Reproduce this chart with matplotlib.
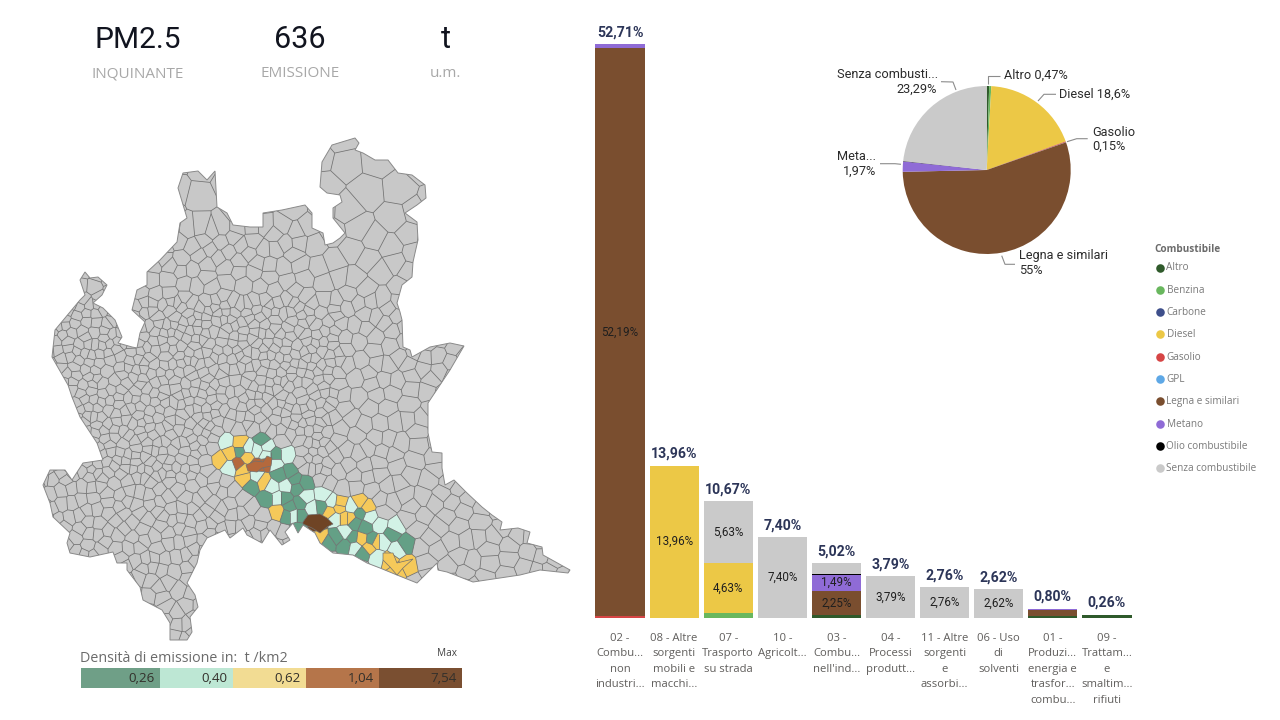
import numpy as np
import matplotlib
matplotlib.use("Agg")
import matplotlib.pyplot as plt
import matplotlib.tri as mtri
from matplotlib.collections import LineCollection
from matplotlib.patches import PathPatch, Polygon, Rectangle
from matplotlib.path import Path

# bar chart data
categories = [
    "02 -\nCombu...\nnon\nindustri...", "08 - Altre\nsorgenti\nmobili e\nmacchi...",
    "07 -\nTrasporto\nsu strada", "10 -\nAgricolt...", "03 -\nCombu...\nnell'ind...",
    "04 -\nProcessi\nprodutt...", "11 - Altre\nsorgenti\ne\nassorbi...", "06 - Uso\ndi\nsolventi",
    "01 -\nProduzi...\nenergia e\ntrasfor...\ncombu...", "09 -\nTrattam...\ne\nsmaltim...\nrifiuti",
]
totals = [52.71, 13.96, 10.67, 7.40, 5.02, 3.79, 2.76, 2.62, 0.80, 0.26]
fuels = ["Altro", "Benzina", "Carbone", "Diesel", "Gasolio", "GPL", "Legna e similari",
         "Metano", "Olio combustibile", "Senza combustibile"]
fuel_colors = ["#2F5A2B", "#69B75E", "#3E4F8B", "#ECC846", "#D64545", "#5EA8E6", "#7A4E2F",
               "#8F6BD6", "#000000", "#CACACA"]
altro = [0, 0, 0, 0, 0.20, 0, 0, 0, 0.12, 0.20]
benzina = [0, 0, 0.41, 0, 0, 0, 0, 0, 0, 0]
diesel = [0, 13.96, 4.63, 0, 0, 0, 0, 0, 0, 0]
gasolio = [0.13, 0, 0, 0, 0, 0, 0, 0, 0, 0]
legna = [52.19, 0, 0, 0, 2.25, 0, 0, 0, 0.60, 0]
metano = [0.39, 0, 0, 0, 1.49, 0, 0, 0, 0.08, 0]
olio = [0, 0, 0, 0, 0.08, 0, 0, 0, 0, 0]
senza = [0, 0, 5.63, 7.40, 1.00, 3.79, 2.76, 2.62, 0, 0.06]
zero = [0] * 10
stack = [altro, benzina, zero, diesel, gasolio, zero, legna, metano, olio, senza]

# pie data
pie_values = [0.47, 0.41, 18.6, 0.15, 0.03, 55, 1.97, 0.08, 23.29]
pie_colors = ["#2F5A2B", "#69B75E", "#ECC846", "#D64545", "#5EA8E6", "#7A4E2F", "#8F6BD6", "#000000", "#CACACA"]

# map legend
class_labels = ["0,26", "0,40", "0,62", "1,04", "7,54"]
class_legend_colors = ["#6F9F87", "#BDE7D4", "#F2DC93", "#B5754A", "#7A4F31"]
class_map_colors = ["#64A086", "#D2F2E6", "#F5C95A", "#B4693D", "#6F4425"]

# outline of the region (pixels)
outline_x = [80, 85, 90, 98, 107, 102, 93, 103, 115, 122, 118, 132, 137, 140, 145, 132, 137, 147, 147, 160, 177, 180,
             187, 178, 183, 198, 207, 215, 217, 227, 233, 250, 263, 263, 282, 305, 312, 312, 323, 325, 333, 340, 345,
             333, 333, 342, 340, 327, 320, 322, 332, 355, 359, 355, 363, 375, 388, 398, 412, 425, 426, 417, 405, 417,
             418, 415, 413, 412, 402, 397, 400, 402, 403, 410, 412, 430, 450, 464, 450, 428, 428, 432, 442, 442, 445,
             454, 467, 482, 492, 502, 500, 518, 530, 527, 542, 543, 570, 568, 540, 520, 473, 447, 438, 437, 417, 397,
             380, 367, 353, 333, 320, 315, 303, 298, 293, 285, 290, 282, 270, 262, 247, 243, 230, 225, 207, 200, 197,
             187, 195, 198, 190, 192, 187, 170, 170, 162, 143, 140, 127, 127, 117, 113, 90, 70, 67, 70, 53, 50, 43,
             50, 65, 72, 83, 103, 97, 80, 72, 68, 52, 55, 80, 85]
outline_y = [280, 272, 278, 277, 285, 295, 303, 308, 320, 337, 343, 347, 348, 333, 322, 310, 290, 285, 272, 260, 242,
             223, 218, 188, 173, 171, 180, 171, 207, 213, 225, 227, 227, 213, 210, 205, 213, 228, 233, 245, 243, 238,
             233, 218, 208, 202, 195, 193, 187, 162, 145, 138, 143, 150, 153, 160, 160, 173, 175, 185, 198, 205, 213,
             222, 240, 253, 262, 277, 285, 303, 312, 320, 347, 350, 357, 347, 343, 346, 370, 403, 433, 452, 453, 468,
             485, 480, 493, 507, 515, 522, 530, 528, 532, 543, 547, 555, 570, 573, 570, 575, 582, 572, 570, 563, 583,
             575, 568, 563, 555, 553, 543, 533, 525, 533, 523, 532, 540, 545, 530, 543, 535, 528, 538, 530, 538, 550,
             563, 583, 595, 607, 617, 632, 640, 640, 623, 610, 600, 587, 570, 563, 563, 552, 557, 553, 543, 533, 517,
             503, 485, 470, 470, 480, 463, 460, 443, 417, 397, 385, 357, 330, 300, 295]

# municipalities with a density class, position, class index into class_labels
comuni_x = [226, 220, 230, 240, 230, 240, 238, 247, 243, 245, 257, 267, 263, 248, 257, 267, 266, 262, 275,
            275, 287, 280, 290, 295, 305, 252, 256, 272, 286, 267, 285, 297, 290, 300, 300, 306, 323, 277, 278, 287,
            293, 298, 312, 321, 332, 340, 330, 339, 344, 350, 335, 317, 320, 328, 337, 345, 353, 345, 355, 352, 360,
            367, 360, 355, 365, 363, 372, 380, 370, 395, 361, 369, 376, 377, 382, 397, 392, 406, 390, 397, 407]
comuni_y = [442, 459, 453, 443, 467, 451, 464, 457, 470, 478, 465, 462, 482, 448, 450, 447, 455, 440, 455,
            463, 455, 475, 472, 480, 483, 485, 477, 487, 486, 498, 498, 488, 507, 503, 515, 497, 495, 498, 512, 515,
            515, 530, 508, 507, 502, 503, 512, 508, 518, 518, 518, 523, 538, 543, 537, 545, 538, 532, 547, 507, 502,
            507, 513, 523, 527, 553, 540, 525, 517, 527, 539, 548, 542, 557, 542, 550, 533, 544, 560, 570, 565]
comuni_classe = [1, 2, 2, 2, 1, 0, 3, 2, 2, 2, 3, 3, 2, 1, 1, 1, 1, 0, 0,
                 1, 1, 0, 0, 0, 0, 0, 1, 1, 1, 0, 0, 0, 0, 0, 0, 1, 1, 1, 2, 0,
                 1, 0, 1, 0, 1, 2, 2, 2, 2, 2, 1, 4, 2, 0, 0, 0, 0, 1, 1, 1, 2,
                 2, 0, 0, 0, 0, 0, 1, 1, 1, 2, 2, 2, 1, 1, 1, 0, 0, 2, 2, 2]

# the three large municipalities have their own shape
grandi_x = [[303, 308, 320, 327, 333, 327, 320, 312, 303],
            [246, 255, 263, 267, 272, 271, 262, 257, 248],
            [383, 393, 397, 413, 403, 397, 390, 383]]
grandi_y = [[522, 515, 514, 518, 524, 527, 533, 528, 524],
            [465, 461, 462, 456, 458, 466, 468, 472, 471],
            [553, 553, 563, 559, 568, 575, 567, 560]]
grandi_classe = [4, 3, 2]

kpi_values = ["PM2.5", "636", "t"]
kpi_names = ["INQUINANTE", "EMISSIONE", "u.m."]

plt.rcParams["font.family"] = ["Open Sans", "DejaVu Sans"]
din = ["Roboto", "DejaVu Sans"]

fig = plt.figure(figsize=(12.8, 7.2), dpi=100, facecolor="white")
ax_px = fig.add_axes([0, 0, 1, 1])
ax_px.set_xlim(0, 1280)
ax_px.set_ylim(720, 0)
ax_px.axis("off")


def halton(n, base):
    out = np.zeros(n)
    for i in range(n):
        f, r, k = 1.0, 0.0, i + 1
        while k > 0:
            f /= base
            r += f * (k % base)
            k //= base
        out[i] = r
    return out


def cell_size(x, y):
    # municipalities are large in the Alps and in the south east, small in the plain
    if y < 225:
        return 22
    if y < 300 and x > 300:
        return 15
    if y < 300:
        return 10.5
    if x > 340 and y < 400:
        return 10.5
    if x > 400:
        return 12
    if x > 330 and y > 400:
        return 11
    if y > 570:
        return 10
    if x < 180 and y > 480:
        return 8.5
    if y > 480 and x < 300:
        return 8
    return 6.3


# texture of the municipal borders: voronoi cells around the picked seeds plus filler seeds
px = list(comuni_x)
py = list(comuni_y)
for hx, hy in zip(20 + 570 * halton(20000, 2), 120 + 530 * halton(20000, 3)):
    d = np.hypot(np.array(px) - hx, np.array(py) - hy)
    if d[:len(comuni_x)].min() < 14:
        continue
    if d.min() >= cell_size(hx, hy):
        px.append(hx)
        py.append(hy)
px = np.array(px)
py = np.array(py)

tri = mtri.Triangulation(px, py)
a = tri.triangles
ax1, ay1 = px[a[:, 0]], py[a[:, 0]]
bx, by = px[a[:, 1]] - ax1, py[a[:, 1]] - ay1
cx, cy = px[a[:, 2]] - ax1, py[a[:, 2]] - ay1
dd = 2 * (bx * cy - by * cx)
ccx = ax1 + (cy * (bx**2 + by**2) - by * (cx**2 + cy**2)) / dd
ccy = ay1 + (bx * (cx**2 + cy**2) - cx * (bx**2 + by**2)) / dd

segs = []
for t, nb in enumerate(tri.neighbors):
    for n in nb:
        if n > t:
            segs.append([(ccx[t], ccy[t]), (ccx[n], ccy[n])])

outline = Path(np.column_stack([outline_x + outline_x[:1], outline_y + outline_y[:1]]), closed=True)
land = PathPatch(outline, facecolor="#C8C8C8", edgecolor="none", zorder=1)
ax_px.add_patch(land)

for i, k in enumerate(comuni_classe):
    ts = np.where((a == i).any(axis=1))[0]
    ang = np.arctan2(ccy[ts] - py[i], ccx[ts] - px[i])
    order = ts[np.argsort(ang)]
    cell = Polygon(np.column_stack([ccx[order], ccy[order]]), closed=True,
                   facecolor=class_map_colors[k], edgecolor="none", zorder=2)
    ax_px.add_patch(cell)
    cell.set_clip_path(land)

borders = LineCollection(segs, colors="#707070", linewidths=0.55, zorder=3)
ax_px.add_collection(borders)
borders.set_clip_path(land)
ax_px.add_patch(PathPatch(outline, facecolor="none", edgecolor="#8A8A8A", linewidth=0.7, zorder=4))

for gx, gy, k in zip(grandi_x, grandi_y, grandi_classe):
    ax_px.add_patch(Polygon(np.column_stack([gx, gy]), closed=True, facecolor=class_map_colors[k],
                            edgecolor="#707070", linewidth=0.5, zorder=5))

# KPI cards
for cx_kpi, val, name, size in zip([138, 300, 445.5], kpi_values, kpi_names, [21.5, 22, 22]):
    ax_px.text(cx_kpi, 39.5, val, ha="center", va="center", fontsize=size, color="#11141F", family=din)
    ax_px.text(cx_kpi, 73.5, name, ha="center", va="center", fontsize=11, color="#A8A8A8")

# map legend
ax_px.text(80, 658, "Densità di emissione in:  t /km2", ha="left", va="center", fontsize=10.3, color="#6B6B6B")
ax_px.text(457, 654, "Max", ha="right", va="center", fontsize=7.2, color="#444444")
legend_edges = [81, 160, 232.5, 305.5, 378.5, 462]
for i, (lab, col) in enumerate(zip(class_labels, class_legend_colors)):
    ax_px.add_patch(Rectangle((legend_edges[i], 668), legend_edges[i + 1] - legend_edges[i], 20,
                              facecolor=col, edgecolor="none"))
    ax_px.text(legend_edges[i + 1] - 5, 678.5, lab, ha="right", va="center", fontsize=9.6, color="#33302B")

# stacked bars
W, H = 1280, 720
ax_bar = fig.add_axes([593 / W, (H - 617.5) / H, 541 / W, 573.5 / H])
ax_bar.set_facecolor("none")
positions = np.arange(len(categories))
bottom = np.zeros(len(categories))
for vals, col in zip(stack, fuel_colors):
    vals = np.array(vals, dtype=float)
    ax_bar.bar(positions, vals, 0.91, bottom=bottom, color=col, linewidth=0)
    for i, v in enumerate(vals):
        if v >= 1.2:
            ax_bar.text(i, bottom[i] + v / 2, f"{v:.2f}%".replace(".", ","), ha="center", va="center",
                        fontsize=8.4, color="#1F1F1F", family=din)
    bottom += vals
for i, t in enumerate(totals):
    ax_bar.text(i, t + 0.44, f"{t:.2f}%".replace(".", ","), ha="center", va="bottom",
                fontsize=10.2, fontweight="bold", color="#2C3558", family=din, clip_on=False)
ax_bar.set_xlim(-0.5, len(categories) - 0.5)
ax_bar.set_ylim(0, 52.71)
ax_bar.set_yticks([])
ax_bar.set_xticks(positions)
ax_bar.set_xticklabels(categories, fontsize=8.1, color="#605E5C", linespacing=1.56)
ax_bar.tick_params(axis="x", length=0, pad=11)
for s in ax_bar.spines.values():
    s.set_visible(False)

# pie
ax_pie = fig.add_axes([(986.7 - 84) / W, (H - 170 - 84) / H, 168 / W, 168 / H])
ax_pie.pie(pie_values, colors=pie_colors, startangle=90, counterclock=False, radius=1)
ax_pie.set_xlim(-1, 1)
ax_pie.set_ylim(-1, 1)

pie_labels = [
    ("Senza combusti...", 938, 74, "right"), ("23,29%", 937, 89, "right"),
    ("Altro 0,47%", 1004, 75.5, "left"), ("Diesel 18,6%", 1059, 94, "left"),
    ("Gasolio", 1092, 132, "left"), ("0,15%", 1092, 146, "left"),
    ("Meta...", 876, 157, "right"), ("1,97%", 876, 171, "right"),
    ("Legna e similari", 1019, 256, "left"), ("55%", 1019, 271, "left"),
]
for txt, tx, ty, ha in pie_labels:
    ax_px.text(tx, ty, txt, ha=ha, va="center", fontsize=9.2, color="#2B2B2B", family=din)
leaders = [
    [(941, 81.7), (953, 82), (956, 90)], [(1000, 75.7), (987.7, 75.7), (987.7, 84.3)],
    [(1056, 94.3), (1044, 94.3), (1038, 101)], [(1087.7, 138.7), (1076.7, 138.7), (1067, 141.7)],
    [(880, 163.7), (895, 163.7), (901, 164.3)], [(1015, 264.3), (1005, 264.3), (1001.7, 255.7)],
]
ax_px.add_collection(LineCollection(leaders, colors="#8C8C8C", linewidths=0.8))

# fuel legend
ax_px.text(1154, 249.5, "Combustibile", ha="left", va="center", fontsize=7.2, fontweight="bold", color="#6B6B6B")
for i, (name, col) in enumerate(zip(fuels, fuel_colors)):
    yy = 267.5 + 22.3 * i
    ax_px.scatter([1160], [yy], s=38, color=col, linewidths=0)
    ax_px.text(1166.5, yy + 0.5, name, ha="left", va="center", fontsize=7.2, color="#7A7A7A")

fig.savefig("out.png", dpi=100)
